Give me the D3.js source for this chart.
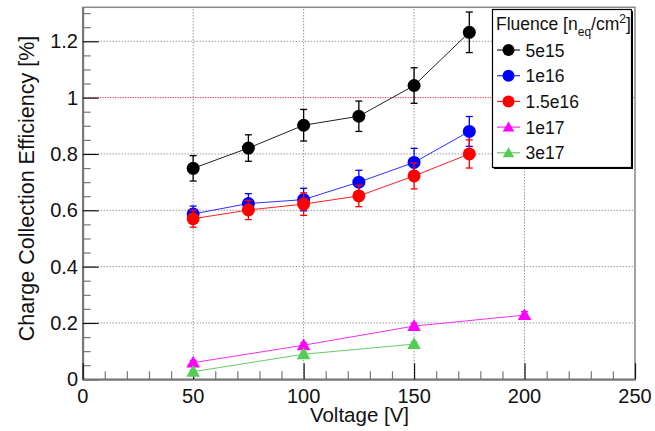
<!DOCTYPE html>
<html>
<head>
<meta charset="utf-8">
<script src="https://cdn.jsdelivr.net/npm/d3@7"></script>
<style>
  body { margin: 0; background: #fff; }
  svg { font-family: 'Liberation Sans', Arial, Helvetica, sans-serif; }
</style>
</head>
<body>
<script>
// data
const voltage = [50, 75, 100, 125, 150, 175];
const cce5e15 = [0.749, 0.821, 0.902, 0.934, 1.043, 1.232];
const err5e15 = [0.045, 0.047, 0.056, 0.054, 0.063, 0.072];
const cce1e16 = [0.587, 0.624, 0.638, 0.700, 0.770, 0.880];
const err1e16 = [0.028, 0.035, 0.040, 0.042, 0.050, 0.053];
const cce15e16 = [0.570, 0.601, 0.622, 0.651, 0.722, 0.800];
const err15e16 = [0.030, 0.034, 0.040, 0.038, 0.046, 0.050];
const voltage1e17 = [50, 100, 150, 200];
const cce1e17 = [0.059, 0.121, 0.189, 0.228];
const err1e17 = [0.008, 0.008, 0.010, 0.012];
const voltage3e17 = [50, 100, 150];
const cce3e17 = [0.027, 0.089, 0.125];
const err3e17 = [0.006, 0.007, 0.008];

const xTicks = [0, 50, 100, 150, 200, 250];
const yTicks = [0, 0.2, 0.4, 0.6, 0.8, 1, 1.2];

const series = [
  {name: '5e15', x: voltage, y: cce5e15, e: err5e15, color: '#000000', line: '#222', shape: 'circle'},
  {name: '1e16', x: voltage, y: cce1e16, e: err1e16, color: '#0000ff', line: '#3030ff', shape: 'circle'},
  {name: '1.5e16', x: voltage, y: cce15e16, e: err15e16, color: '#ff0000', line: '#ff2020', shape: 'circle'},
  {name: '1e17', x: voltage1e17, y: cce1e17, e: err1e17, color: '#ff00ff', line: '#ee33ee', shape: 'triangle'},
  {name: '3e17', x: voltage3e17, y: cce3e17, e: err3e17, color: '#55cc55', line: '#66cc66', shape: 'triangle'}
];

const width = 655, height = 431;
const x = d3.scaleLinear().domain([0, 250]).range([82.7, 635]);
const y = d3.scaleLinear().domain([0, 1.3207]).range([379.3, 7.3]);

const svg = d3.select('body').append('svg')
  .attr('width', width)
  .attr('height', height);

// grid
const grid = svg.append('g').attr('stroke', '#666').attr('stroke-width', 1)
  .attr('stroke-dasharray', '1,2');
grid.selectAll('line.gx').data(xTicks.slice(1, -1)).join('line')
  .attr('x1', d => x(d)).attr('x2', d => x(d))
  .attr('y1', y(0)).attr('y2', y(1.3207));
grid.selectAll('line.gy').data(yTicks.slice(1).filter(d => d !== 1)).join('line')
  .attr('x1', x(0)).attr('x2', x(250))
  .attr('y1', d => y(d)).attr('y2', d => y(d));

// reference line at 100%
svg.append('line')
  .attr('x1', x(0)).attr('x2', x(250))
  .attr('y1', y(1)).attr('y2', y(1))
  .attr('stroke', '#ff0000').attr('stroke-width', 1)
  .attr('stroke-dasharray', '1,1.5');

// frame
svg.append('rect')
  .attr('x', x(0)).attr('y', y(1.3207))
  .attr('width', x(250) - x(0)).attr('height', y(0) - y(1.3207))
  .attr('fill', 'none').attr('stroke', '#888').attr('stroke-width', 1.5);

// axes (ROOT style: ticks inside)
const yAxis = d3.axisRight(y)
  .tickValues(d3.range(0, 1.3001, 0.05))
  .tickSize(0).tickFormat('');
const yAx = svg.append('g').attr('transform', `translate(${x(0)},0)`).call(yAxis);
yAx.select('.domain').attr('stroke', '#777').attr('stroke-width', 2);
yAx.selectAll('.tick line')
  .attr('x2', (d, i) => i % 4 === 0 ? 16 : 8)
  .attr('stroke', (d, i) => i % 4 === 0 ? '#111' : '#777')
  .attr('stroke-width', 1.2);

const xAxis = d3.axisTop(x)
  .tickValues(d3.range(0, 250.1, 10))
  .tickSize(0).tickFormat('');
const xAx = svg.append('g').attr('transform', `translate(0,${y(0)})`).call(xAxis);
xAx.select('.domain').attr('stroke', '#777').attr('stroke-width', 2);
xAx.selectAll('.tick line')
  .attr('y2', (d, i) => i % 5 === 0 ? -16 : -8)
  .attr('stroke', (d, i) => i % 5 === 0 ? '#111' : '#777')
  .attr('stroke-width', 1.2);

// tick labels
svg.append('g').selectAll('text').data(yTicks).join('text')
  .attr('x', 78).attr('y', d => y(d) + 7)
  .attr('text-anchor', 'end').attr('font-size', 20).attr('fill', '#111')
  .text(d => d3.format('~g')(d));
svg.append('g').selectAll('text').data(xTicks).join('text')
  .attr('x', d => x(d)).attr('y', 403)
  .attr('text-anchor', 'middle').attr('font-size', 20).attr('fill', '#111')
  .text(d => d);

// axis titles
svg.append('text')
  .attr('x', 359.5).attr('y', 422)
  .attr('text-anchor', 'middle').attr('font-size', 20.5).attr('fill', '#111')
  .text('Voltage [V]');
svg.append('text')
  .attr('transform', 'translate(34,188.5) rotate(-90)')
  .attr('text-anchor', 'middle').attr('font-size', 21.5).attr('fill', '#111')
  .text('Charge Collection Efficiency [%]');

// markers
const tri = d3.symbol().type(d3.symbolTriangle);
function marker(g, s, cx, cy, r) {
  if (s.shape === 'circle') {
    g.append('circle').attr('cx', cx).attr('cy', cy).attr('r', r).attr('fill', s.color);
  } else {
    g.append('path').attr('d', tri.size(r * r * 1.9)())
      .attr('transform', `translate(${cx},${cy + 1})`).attr('fill', s.color);
  }
}

const line = d3.line().x(d => x(d[0])).y(d => y(d[1]));

series.forEach(s => {
  const pts = s.x.map((v, i) => [v, s.y[i], s.e[i]]);
  const g = svg.append('g');
  g.append('path').datum(pts).attr('d', line)
    .attr('fill', 'none').attr('stroke', s.line).attr('stroke-width', 1);
  pts.forEach(p => {
    const cx = x(p[0]);
    g.append('line').attr('x1', cx).attr('x2', cx)
      .attr('y1', y(p[1] - p[2])).attr('y2', y(p[1] + p[2]))
      .attr('stroke', s.color).attr('stroke-width', 1.3);
    [p[1] - p[2], p[1] + p[2]].forEach(v => {
      g.append('line').attr('x1', cx - 3.5).attr('x2', cx + 3.5)
        .attr('y1', y(v)).attr('y2', y(v))
        .attr('stroke', s.color).attr('stroke-width', 1.3);
    });
    marker(g, s, cx, y(p[1]), 6.5);
  });
});

// legend
const lg = svg.append('g');
lg.append('rect').attr('x', 494).attr('y', 11).attr('width', 139).attr('height', 158)
  .attr('fill', '#000');
lg.append('rect').attr('x', 492.5).attr('y', 9.5).attr('width', 139).attr('height', 158)
  .attr('fill', '#fff').attr('stroke', '#000').attr('stroke-width', 1.2);
const title = lg.append('text').attr('x', 496).attr('y', 29.5).attr('font-size', 17.5).attr('fill', '#111');
title.append('tspan').text('Fluence [n');
title.append('tspan').attr('font-size', 12).attr('dy', 6).text('eq');
title.append('tspan').attr('dy', -6).text('/cm');
title.append('tspan').attr('font-size', 12).attr('dy', -7).text('2');
title.append('tspan').attr('dy', 7).text(']');

series.forEach((s, i) => {
  const cy = 50 + i * 25.7;
  lg.append('line').attr('x1', 497).attr('x2', 520).attr('y1', cy).attr('y2', cy)
    .attr('stroke', s.line).attr('stroke-width', 1.2);
  marker(lg, s, 508.5, cy, s.shape === 'circle' ? 6 : 5.5);
  lg.append('text').attr('x', 525.5).attr('y', cy + 6.5).attr('font-size', 17.5).attr('fill', '#111')
    .text(s.name);
});
</script>
</body>
</html>
